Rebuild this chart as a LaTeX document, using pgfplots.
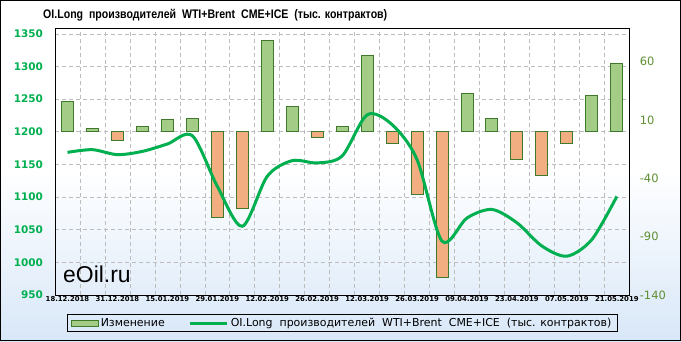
\documentclass[border=0pt]{standalone}
\usepackage{graphicx}
\usepackage{pgfplots}
\pgfplotsset{compat=1.18}
\usepackage{fontspec}
\setmainfont{DejaVu Sans}
\newfontfamily\lib{Liberation Sans}
\definecolor{lgreen}{HTML}{00B050}
\definecolor{rgreen}{HTML}{5E8F32}
\definecolor{gridc}{HTML}{BDBDBD}
\definecolor{gF}{HTML}{A3CD86}
\definecolor{gE}{HTML}{3F7A2C}
\definecolor{oF}{HTML}{F2AE80}
\definecolor{bgblue}{HTML}{D8E7F8}
\begin{document}
\begin{tikzpicture}[x=1bp,y=1bp]
\useasboundingbox (0,0) rectangle (681,341);
\fill[white] (0,0) rectangle (681,341);
\shade[top color=white,bottom color=bgblue] (0,0) rectangle (681,170);
\draw[black,line width=1bp] (0.5,0.5) rectangle (680.5,340.5);
\node[anchor=base west,inner sep=0pt] at (43,322.7) {\resizebox{344bp}{\height}{\lib\bfseries\fontsize{12.5}{14}\selectfont OI.Long\ \ производителей\ \ WTI+Brent\ \ CME+ICE\ \ (тыс. контрактов)}};
% axis 1: grid, left labels, x labels
\begin{axis}[at={(55bp,46bp)}, anchor=south west, scale only axis,
  width=574.3bp, height=267bp,
  xmin=-0.5, xmax=22.5, ymin=950, ymax=1359,
  ytick={950,1000,...,1350},
  xtick={0,2,...,22},
  xticklabels={18.12.2018,31.12.2018,15.01.2019,29.01.2019,12.02.2019,26.02.2019,12.03.2019,26.03.2019,09.04.2019,23.04.2019,07.05.2019,21.05.2019},
  minor xtick={0.5,1.5,...,21.5},
  xminorgrids, ymajorgrids,
  grid style={gridc, line width=0.6bp, dash pattern=on 4bp off 3bp},
  minor grid style={gridc, line width=0.6bp, dash pattern=on 4bp off 3bp},
  major tick length=0pt, minor tick length=0pt,
  axis line style={black, line width=0.8bp},
  /pgf/number format/assume math mode=true,
  /pgf/number format/set thousands separator={},
  yticklabel style={font=\bfseries\fontsize{10.5}{12}\selectfont, text=lgreen, xshift=-8.5bp},
  xticklabel style={font=\bfseries\fontsize{6.9}{8}\selectfont, inner sep=1bp, yshift=-0.5bp},
]
\end{axis}
% axis 2: bars on right axis
\begin{axis}[at={(55bp,46bp)}, anchor=south west, scale only axis,
  width=574.3bp, height=267bp,
  xmin=-0.5, xmax=22.5, ymin=-140, ymax=88.8,
  axis y line*=right, axis x line=none,
  ytick={-140,-90,...,60},
  major tick length=0pt,
  axis line style={black, line width=0.8bp},
  /pgf/number format/assume math mode=true,
  yticklabel style={font=\fontsize{11.5}{13}\selectfont, text=rgreen, xshift=7bp},
  ybar, bar width=12bp, bar shift=0pt,
]
\addplot[draw=gE, line width=1bp, fill=gF]
coordinates {(0,26.2) (1,2.8) (3,4.8) (4,10.5) (5,11.4) (8,77.9) (9,21.9) (11,4.2) (12,65.6) (16,32.8) (17,11.4) (21,30.8) (22,58.5)};
\addplot[draw=gE, line width=1bp, fill=oF]
coordinates {(2,-7.2) (6,-73.8) (7,-65.7) (10,-5.2) (13,-10) (14,-54.3) (15,-124.9) (18,-24.3) (19,-38) (20,-10.6)};
\end{axis}
% axis 3: line
\begin{axis}[at={(55bp,46bp)}, anchor=south west, scale only axis,
  width=574.3bp, height=267bp,
  xmin=-0.5, xmax=22.5, ymin=950, ymax=1359,
  hide axis,
  legend columns=2,
  legend style={at={(0.5,-0.105)}, anchor=center, draw=black, line width=0.8bp, fill=none,
    font=\fontsize{11}{12}\selectfont, inner xsep=4bp, inner ysep=1.5bp,
    /tikz/every even column/.append style={column sep=22bp}},
]
\addlegendimage{legend image code/.code={\draw[draw=gE, line width=0.8bp, fill=gF] (0bp,-3bp) rectangle (27bp,3bp);}}
\addlegendentry{Изменение}
\addplot[lgreen, line width=3bp, smooth, tension=0.5,
  legend image code/.code={\draw[lgreen, line width=3bp] (0bp,0bp) -- (37bp,0bp);}]
coordinates {(0,1168.5) (1,1172.6) (2,1165) (3,1170) (4,1181.3) (5,1194) (6,1116.5) (7,1055.3) (8,1131.8) (9,1155.8) (10,1152.3) (11,1163) (12,1226) (13,1211) (14,1157.3) (15,1032.4) (16,1068) (17,1081) (18,1060.6) (19,1025) (20,1009.5) (21,1035) (22,1101)};
\addlegendentry{OI.Long\ \ производителей\ \ WTI+Brent\ \ CME+ICE\ \ (тыс. контрактов)}
\end{axis}
\node[anchor=base west, inner sep=0pt] at (63,59) {\lib\fontsize{23}{26}\selectfont eOil.ru};
\end{tikzpicture}
\end{document}
